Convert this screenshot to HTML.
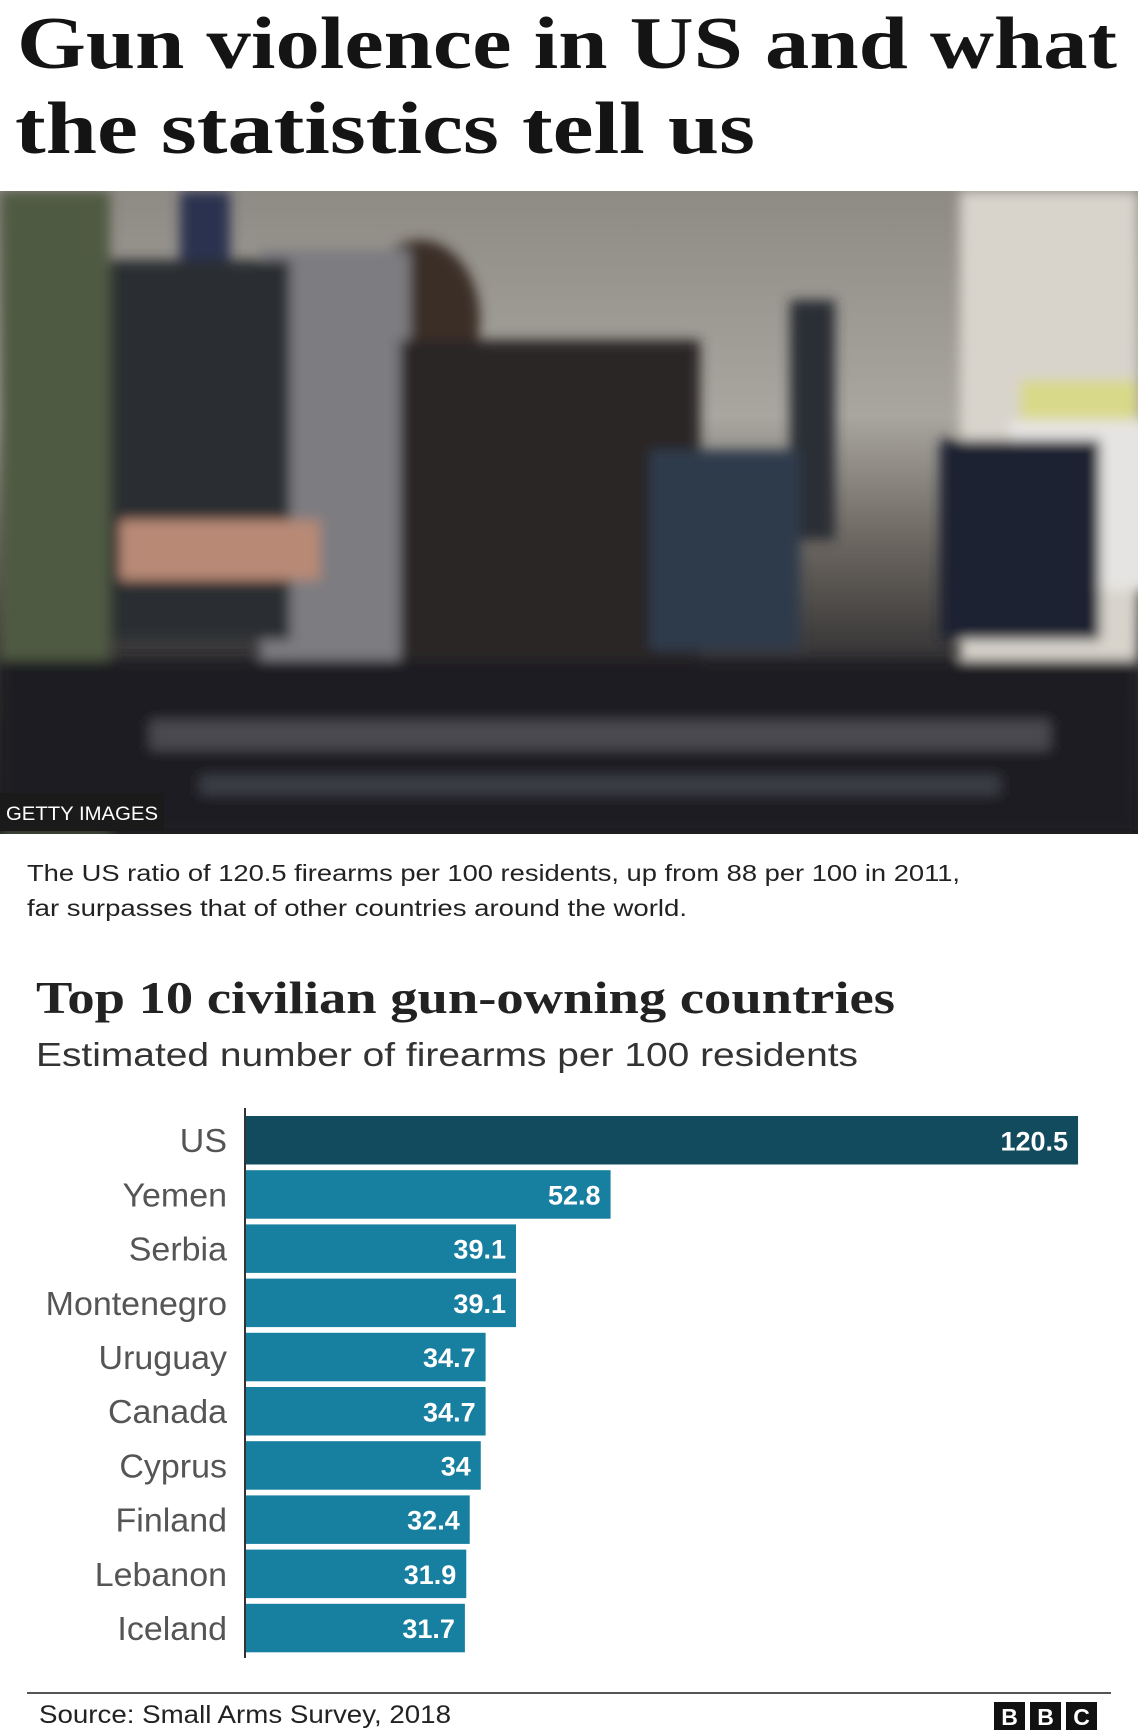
<!DOCTYPE html>
<html><head><meta charset="utf-8"><style>
html,body{margin:0;padding:0;background:#fff;}
svg{display:block;}
</style></head><body>
<svg id="page" width="1138" height="1733" viewBox="0 0 1138 1733" xmlns="http://www.w3.org/2000/svg">
<defs>
<linearGradient id="bg" x1="0" y1="0" x2="0" y2="1">
<stop offset="0" stop-color="#8e8a84"/><stop offset="0.35" stop-color="#a9a69f"/><stop offset="0.55" stop-color="#6a655f"/><stop offset="0.75" stop-color="#2f2e30"/><stop offset="1" stop-color="#1d1d20"/>
</linearGradient>
<filter id="blur"><feGaussianBlur stdDeviation="6"/></filter>
<clipPath id="photoclip"><rect x="0" y="191" width="1138" height="643"/></clipPath>
</defs>
<text x="17" y="68" font-family="Liberation Serif, serif" font-weight="bold" font-size="74" fill="#141414" textLength="1100" lengthAdjust="spacingAndGlyphs">Gun violence in US and what</text>
<text x="15" y="153" font-family="Liberation Serif, serif" font-weight="bold" font-size="74" fill="#141414" textLength="740" lengthAdjust="spacingAndGlyphs">the statistics tell us</text>

<g>
<rect x="0" y="191" width="1138" height="643" fill="url(#bg)"/>
<g filter="url(#blur)" clip-path="url(#photoclip)">
<rect x="960" y="191" width="178" height="500" fill="#d8d4cc"/>
<rect x="1020" y="380" width="118" height="60" fill="#d9d98a"/>
<rect x="1010" y="420" width="240" height="170" fill="#e6e4e2"/>
<rect x="180" y="191" width="50" height="120" fill="#2b3350"/>
<rect x="790" y="300" width="45" height="240" fill="#2c2e36"/>
<ellipse cx="420" cy="320" rx="60" ry="80" fill="#3a2d28"/>
<rect x="260" y="250" width="150" height="440" fill="#7d7c80"/>
<rect x="90" y="260" width="200" height="380" fill="#2c2e33"/>
<rect x="400" y="340" width="300" height="340" fill="#2a2628"/>
<rect x="650" y="450" width="150" height="200" fill="#2f3a4c"/>
<rect x="940" y="440" width="160" height="200" fill="#1f2230"/>
<rect x="0" y="191" width="110" height="660" fill="#505a42"/>
<rect x="120" y="520" width="200" height="60" fill="#b88a76"/>
<rect x="0" y="660" width="1138" height="174" fill="#1f1f23"/>
<rect x="150" y="720" width="900" height="30" fill="#4a4a50"/>
<rect x="200" y="775" width="800" height="20" fill="#3b3c44"/>
</g>
<rect x="0" y="793" width="164" height="38" fill="#1a1a1a"/>
<text x="6" y="820" font-family="Liberation Sans, sans-serif" font-size="19" fill="#fff" textLength="152" lengthAdjust="spacingAndGlyphs">GETTY IMAGES</text>
</g>

<text x="27" y="881" font-family="Liberation Sans, sans-serif" font-size="23" fill="#222" textLength="933" lengthAdjust="spacingAndGlyphs">The US ratio of 120.5 firearms per 100 residents, up from 88 per 100 in 2011,</text>
<text x="27" y="916" font-family="Liberation Sans, sans-serif" font-size="23" fill="#222" textLength="660" lengthAdjust="spacingAndGlyphs">far surpasses that of other countries around the world.</text>

<text x="36" y="1013" font-family="Liberation Serif, serif" font-weight="bold" font-size="46" fill="#222" textLength="859" lengthAdjust="spacingAndGlyphs">Top 10 civilian gun-owning countries</text>
<text x="36" y="1066" font-family="Liberation Sans, sans-serif" font-size="33" fill="#333" textLength="822" lengthAdjust="spacingAndGlyphs">Estimated number of firearms per 100 residents</text>

<g id="chart"></g>

<line x1="27" y1="1693" x2="1111" y2="1693" stroke="#555" stroke-width="2"/>
<text x="39" y="1723" font-family="Liberation Sans, sans-serif" font-size="25" fill="#222" textLength="412" lengthAdjust="spacingAndGlyphs">Source: Small Arms Survey, 2018</text>
<g>
<rect x="994" y="1702" width="31" height="28" fill="#111"/><rect x="1030" y="1702" width="31" height="28" fill="#111"/><rect x="1066" y="1702" width="31" height="28" fill="#111"/>
<text x="1009.5" y="1725" text-anchor="middle" font-family="Liberation Sans, sans-serif" font-weight="bold" font-size="23" fill="#fff">B</text>
<text x="1045.5" y="1725" text-anchor="middle" font-family="Liberation Sans, sans-serif" font-weight="bold" font-size="23" fill="#fff">B</text>
<text x="1081.5" y="1725" text-anchor="middle" font-family="Liberation Sans, sans-serif" font-weight="bold" font-size="23" fill="#fff">C</text>
</g>
</svg>
<script>
const countries = ["US","Yemen","Serbia","Montenegro","Uruguay","Canada","Cyprus","Finland","Lebanon","Iceland"];
const values = [120.5,52.8,39.1,39.1,34.7,34.7,34,32.4,31.9,31.7];
const valueLabels = ["120.5","52.8","39.1","39.1","34.7","34.7","34","32.4","31.9","31.7"];

const NS = "http://www.w3.org/2000/svg";
const g = document.getElementById('chart');
const x0 = 246, pxPerUnit = 6.905;
const top0 = 1116, step = 54.2, barH = 48.5;
const xScale = v => x0 + v * pxPerUnit;
const yScale = i => top0 + i * step;
function mk(tag, attrs){const e=document.createElementNS(NS,tag);for(const k in attrs)e.setAttribute(k,attrs[k]);return e;}
countries.forEach((c,i)=>{
  const y = yScale(i);
  const r = mk('rect',{x:x0,y:y,width:xScale(values[i])-x0,height:barH,fill:i===0?'#124b5e':'#177fa0'});
  
  
  g.appendChild(r);
  const l = mk('text',{x:227,y:y+barH/2+12,'text-anchor':'end','font-family':'Liberation Sans, sans-serif','font-size':'33',fill:'#555','transform':'translate(227 0) scale(1.03 1) translate(-227 0)'});
  l.textContent = c;
  
  
  g.appendChild(l);
  const v = mk('text',{x:xScale(values[i])-10,y:y+barH/2+10,'text-anchor':'end','font-family':'Liberation Sans, sans-serif','font-weight':'bold','font-size':'27',fill:'#fff'});
  v.textContent = valueLabels[i];
  
  
  g.appendChild(v);
});
const ax = mk('line',{x1:x0-1,y1:1108,x2:x0-1,y2:1658,stroke:'#333','stroke-width':2});


g.appendChild(ax);
</script>
</body></html>
